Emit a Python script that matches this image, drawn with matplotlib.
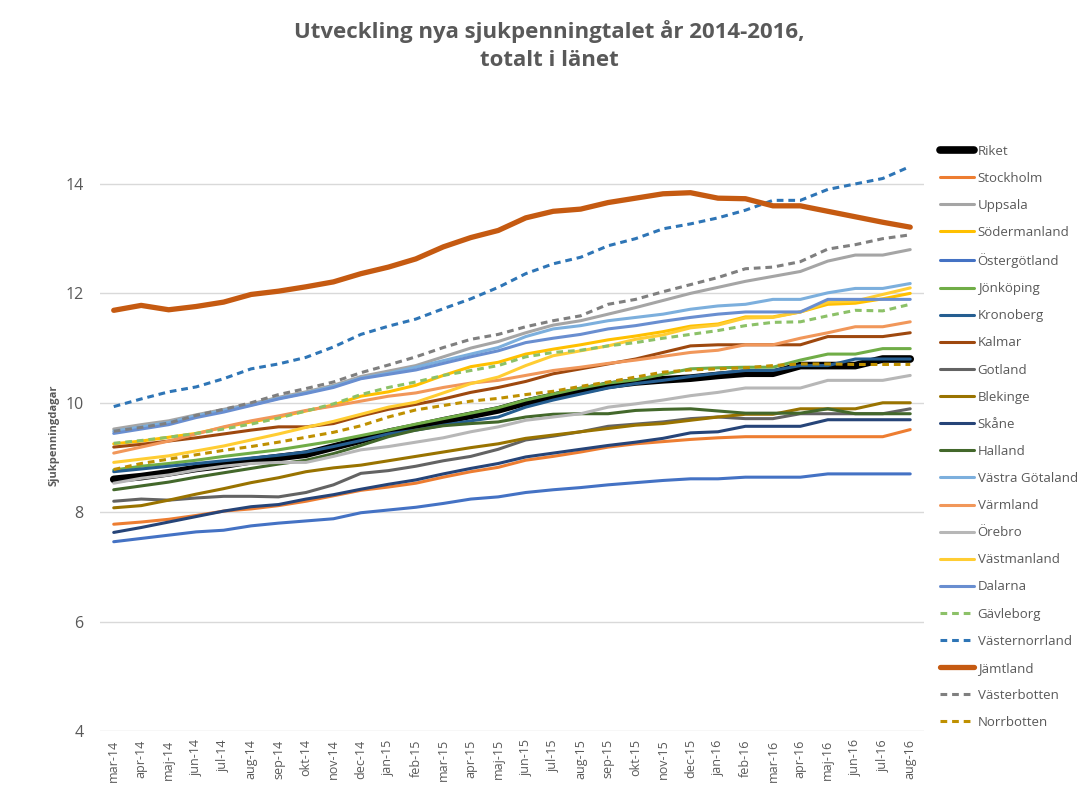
import matplotlib.pyplot as plt
import numpy as np

months = ['mar-14', 'apr-14', 'maj-14', 'jun-14', 'jul-14', 'aug-14', 'sep-14', 'okt-14', 'nov-14', 'dec-14',
          'jan-15', 'feb-15', 'mar-15', 'apr-15', 'maj-15', 'jun-15', 'jul-15', 'aug-15', 'sep-15', 'okt-15',
          'nov-15', 'dec-15', 'jan-16', 'feb-16', 'mar-16', 'apr-16', 'maj-16', 'jun-16', 'jul-16', 'aug-16']

riket = [8.60, 8.65, 8.72, 8.80, 8.86, 8.94, 9.00, 9.06, 9.19, 9.32, 9.46, 9.56, 9.67, 9.77, 9.87,
         10.01, 10.12, 10.22, 10.32, 10.38, 10.42, 10.45, 10.50, 10.54, 10.54, 10.68, 10.68, 10.68, 10.80, 10.80]
stockholm = [7.78, 7.82, 7.87, 7.94, 8.02, 8.06, 8.12, 8.20, 8.30, 8.40, 8.46, 8.53, 8.64, 8.74, 8.82,
             8.95, 9.02, 9.10, 9.19, 9.25, 9.29, 9.33, 9.36, 9.38, 9.38, 9.38, 9.38, 9.38, 9.38, 9.51]
uppsala = [9.52, 9.60, 9.67, 9.78, 9.88, 9.98, 10.10, 10.20, 10.32, 10.48, 10.58, 10.68, 10.84, 11.00, 11.12,
           11.28, 11.42, 11.50, 11.62, 11.74, 11.87, 12.00, 12.11, 12.22, 12.31, 12.40, 12.59, 12.70, 12.70, 12.80]
sodermanland = [9.25, 9.30, 9.37, 9.44, 9.55, 9.65, 9.74, 9.85, 9.96, 10.12, 10.20, 10.32, 10.50, 10.66, 10.74,
                10.89, 10.98, 11.06, 11.15, 11.22, 11.30, 11.40, 11.44, 11.57, 11.57, 11.66, 11.80, 11.82, 11.90, 12.00]
ostergotland = [7.46, 7.52, 7.58, 7.64, 7.67, 7.75, 7.80, 7.84, 7.88, 7.99, 8.04, 8.09, 8.16, 8.24, 8.28,
                8.36, 8.41, 8.45, 8.50, 8.54, 8.58, 8.61, 8.61, 8.64, 8.64, 8.64, 8.70, 8.70, 8.70, 8.70]
jonkoping = [8.77, 8.84, 8.89, 8.95, 9.02, 9.08, 9.14, 9.22, 9.30, 9.40, 9.50, 9.61, 9.71, 9.81, 9.91,
             10.05, 10.16, 10.27, 10.36, 10.42, 10.52, 10.62, 10.64, 10.65, 10.65, 10.78, 10.89, 10.89, 10.99, 10.99]
kronoberg = [8.74, 8.79, 8.84, 8.89, 8.94, 8.99, 9.04, 9.10, 9.20, 9.31, 9.43, 9.50, 9.59, 9.67, 9.74,
             9.92, 10.05, 10.16, 10.27, 10.35, 10.41, 10.48, 10.54, 10.59, 10.59, 10.68, 10.68, 10.80, 10.80, 10.80]
kalmar = [9.19, 9.24, 9.30, 9.36, 9.43, 9.50, 9.56, 9.56, 9.62, 9.76, 9.88, 9.97, 10.07, 10.19, 10.28,
          10.39, 10.53, 10.62, 10.71, 10.80, 10.92, 11.04, 11.06, 11.06, 11.06, 11.06, 11.21, 11.21, 11.21, 11.28]
gotland = [8.20, 8.24, 8.22, 8.26, 8.29, 8.29, 8.28, 8.36, 8.50, 8.71, 8.76, 8.84, 8.94, 9.02, 9.15,
           9.32, 9.39, 9.47, 9.57, 9.61, 9.65, 9.71, 9.74, 9.71, 9.71, 9.80, 9.80, 9.80, 9.80, 9.89]
blekinge = [8.08, 8.12, 8.22, 8.33, 8.43, 8.54, 8.63, 8.74, 8.81, 8.86, 8.94, 9.02, 9.10, 9.18, 9.25,
            9.35, 9.41, 9.47, 9.53, 9.59, 9.62, 9.68, 9.74, 9.79, 9.79, 9.89, 9.89, 9.89, 10.00, 10.00]
skane = [7.63, 7.72, 7.82, 7.92, 8.02, 8.10, 8.14, 8.24, 8.32, 8.42, 8.51, 8.59, 8.70, 8.80, 8.89,
         9.01, 9.08, 9.15, 9.22, 9.28, 9.35, 9.45, 9.47, 9.57, 9.57, 9.57, 9.69, 9.69, 9.69, 9.69]
halland = [8.41, 8.48, 8.55, 8.64, 8.72, 8.80, 8.88, 8.95, 9.07, 9.22, 9.38, 9.50, 9.58, 9.62, 9.65,
           9.74, 9.79, 9.80, 9.80, 9.86, 9.88, 9.89, 9.85, 9.81, 9.81, 9.81, 9.89, 9.80, 9.80, 9.80]
vastra_gotaland = [9.48, 9.56, 9.64, 9.76, 9.86, 9.96, 10.08, 10.18, 10.30, 10.45, 10.54, 10.65, 10.77, 10.89, 11.01,
                   11.21, 11.35, 11.41, 11.50, 11.56, 11.62, 11.71, 11.77, 11.80, 11.89, 11.89, 12.01, 12.09, 12.09, 12.18]
varmland = [9.08, 9.19, 9.30, 9.43, 9.56, 9.67, 9.76, 9.86, 9.94, 10.03, 10.12, 10.18, 10.28, 10.36, 10.41,
            10.50, 10.59, 10.65, 10.72, 10.78, 10.85, 10.92, 10.96, 11.06, 11.06, 11.18, 11.28, 11.39, 11.39, 11.48]
orebro = [8.53, 8.62, 8.68, 8.77, 8.84, 8.89, 8.91, 8.91, 9.02, 9.14, 9.20, 9.28, 9.36, 9.47, 9.56,
          9.68, 9.74, 9.80, 9.92, 9.98, 10.05, 10.13, 10.19, 10.27, 10.27, 10.27, 10.41, 10.41, 10.41, 10.50]
vastmanland = [8.91, 8.97, 9.03, 9.12, 9.21, 9.32, 9.43, 9.55, 9.66, 9.79, 9.92, 10.01, 10.18, 10.35, 10.47,
               10.68, 10.86, 10.95, 11.04, 11.16, 11.24, 11.37, 11.42, 11.55, 11.56, 11.66, 11.84, 11.86, 11.98, 12.10]
dalarna = [9.44, 9.52, 9.60, 9.73, 9.83, 9.95, 10.07, 10.17, 10.28, 10.44, 10.52, 10.60, 10.72, 10.84, 10.95,
           11.10, 11.18, 11.25, 11.35, 11.41, 11.49, 11.56, 11.62, 11.66, 11.66, 11.66, 11.89, 11.89, 11.89, 11.89]
gavleborg = [9.26, 9.31, 9.37, 9.44, 9.52, 9.61, 9.72, 9.85, 9.98, 10.15, 10.28, 10.38, 10.50, 10.59, 10.68,
             10.84, 10.92, 10.96, 11.04, 11.10, 11.18, 11.25, 11.32, 11.41, 11.47, 11.48, 11.59, 11.69, 11.68, 11.80]
vasternorrland = [9.93, 10.07, 10.20, 10.29, 10.44, 10.62, 10.71, 10.83, 11.02, 11.25, 11.40, 11.53, 11.72, 11.90, 12.11,
                  12.36, 12.54, 12.66, 12.87, 13.00, 13.18, 13.27, 13.38, 13.52, 13.70, 13.70, 13.90, 14.00, 14.10, 14.32]
jamtland = [11.69, 11.78, 11.70, 11.76, 11.84, 11.98, 12.04, 12.12, 12.21, 12.36, 12.48, 12.63, 12.85, 13.02, 13.15,
            13.38, 13.50, 13.54, 13.66, 13.74, 13.82, 13.84, 13.74, 13.73, 13.60, 13.60, 13.50, 13.40, 13.30, 13.21]
vasterbotten = [9.48, 9.55, 9.63, 9.77, 9.88, 10.00, 10.15, 10.26, 10.38, 10.55, 10.69, 10.84, 11.01, 11.16, 11.25,
                11.39, 11.50, 11.59, 11.80, 11.89, 12.03, 12.16, 12.29, 12.45, 12.48, 12.58, 12.81, 12.89, 13.00, 13.07]
norrbotten = [8.78, 8.89, 8.97, 9.05, 9.13, 9.20, 9.28, 9.37, 9.46, 9.58, 9.74, 9.87, 9.95, 10.03, 10.08,
              10.15, 10.21, 10.30, 10.38, 10.47, 10.56, 10.60, 10.62, 10.64, 10.68, 10.71, 10.71, 10.70, 10.70, 10.70]

# (label, values, color, width, style)
series = [
    ('Riket', riket, '#000000', 5.5, '-'),
    ('Stockholm', stockholm, '#ED7D31', 2.2, '-'),
    ('Uppsala', uppsala, '#A5A5A5', 2.2, '-'),
    ('Södermanland', sodermanland, '#FFC000', 2.2, '-'),
    ('Östergötland', ostergotland, '#4472C4', 2.2, '-'),
    ('Jönköping', jonkoping, '#70AD47', 2.2, '-'),
    ('Kronoberg', kronoberg, '#255E91', 2.2, '-'),
    ('Kalmar', kalmar, '#9E480E', 2.2, '-'),
    ('Gotland', gotland, '#636363', 2.2, '-'),
    ('Blekinge', blekinge, '#997300', 2.2, '-'),
    ('Skåne', skane, '#264478', 2.2, '-'),
    ('Halland', halland, '#43682B', 2.2, '-'),
    ('Västra Götaland', vastra_gotaland, '#7CAFDD', 2.2, '-'),
    ('Värmland', varmland, '#F1975A', 2.2, '-'),
    ('Örebro', orebro, '#B7B7B7', 2.2, '-'),
    ('Västmanland', vastmanland, '#FFCD33', 2.2, '-'),
    ('Dalarna', dalarna, '#698ED0', 2.2, '-'),
    ('Gävleborg', gavleborg, '#8CC168', 2.2, '--'),
    ('Västernorrland', vasternorrland, '#2E75B6', 2.2, '--'),
    ('Jämtland', jamtland, '#C55A11', 3.8, '-'),
    ('Västerbotten', vasterbotten, '#7F7F7F', 2.2, '--'),
    ('Norrbotten', norrbotten, '#BF9000', 2.2, '--'),
]

plt.rcParams['font.family'] = ['Open Sans', 'DejaVu Sans']
txt = '#595959'

fig = plt.figure(figsize=(10.87, 7.92), dpi=100)
ax = fig.add_axes([0.092, 0.077, 0.758, 0.746])

x = np.arange(len(months))
for label, vals, color, lw, ls in series:
    ax.plot(x, vals, color=color, lw=lw, ls=ls, label=label,
            solid_capstyle='round', dashes=(2.2, 1.6) if ls == '--' else (None, None))

ax.set_xlim(-0.5, len(months) - 0.5)
ax.set_ylim(4, 14.8)
ax.set_yticks([4, 6, 8, 10, 12, 14])
ax.set_xticks(x)
ax.set_xticklabels(months, rotation=90, fontsize=9, color=txt)
ax.tick_params(axis='y', labelsize=11.5, colors=txt, length=0, pad=12)
ax.tick_params(axis='x', length=0, pad=6)
ax.grid(axis='y', color='#D9D9D9', lw=1)
ax.set_axisbelow(True)
for s in ax.spines.values():
    s.set_visible(False)
ax.set_ylabel('Sjukpenningdagar', fontsize=8, fontweight='bold', color=txt, labelpad=4)

fig.suptitle('Utveckling nya sjukpenningtalet år 2014-2016,\ntotalt i länet',
             x=0.505, y=0.975, fontsize=16, fontweight='bold', color=txt, linespacing=1.45)

leg = fig.legend(loc='upper left', bbox_to_anchor=(0.86, 0.824), frameon=False,
                 fontsize=9.5, labelspacing=1.07, handlelength=2.6, handletextpad=0.25,
                 borderaxespad=0)
for t in leg.get_texts():
    t.set_color(txt)

fig.savefig('out.png', dpi=100)
